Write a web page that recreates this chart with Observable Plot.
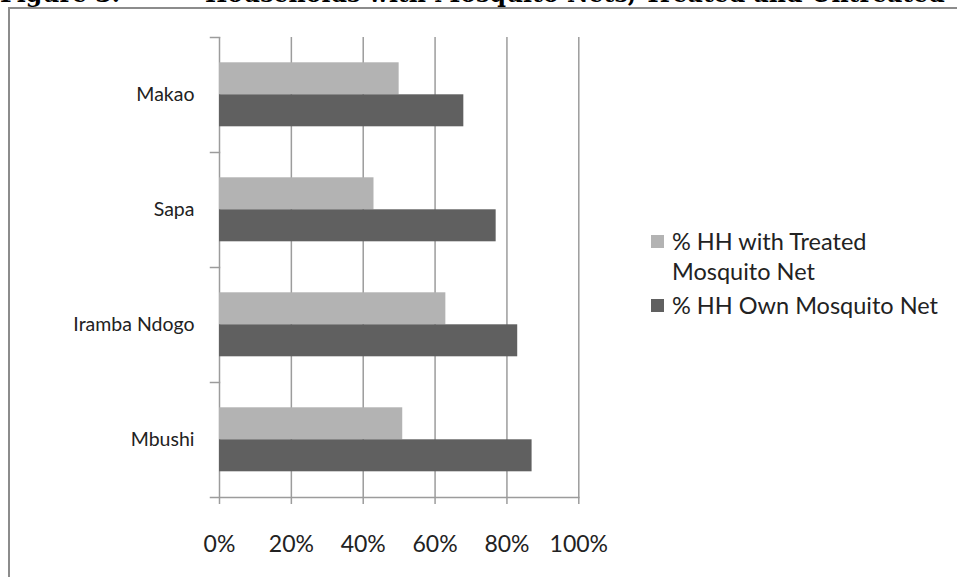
<!DOCTYPE html>
<html>
<head>
<meta charset="utf-8">
<script src="https://cdn.jsdelivr.net/npm/d3@7"></script>
<script src="https://cdn.jsdelivr.net/npm/@observablehq/plot@0.6"></script>
<style>
  body { margin: 0; background: #fff; width: 957px; height: 577px; overflow: hidden; position: relative; font-family: Lato, "Noto Sans", sans-serif; }
  #title { position: absolute; left: 0; top: 0; font-family: "DejaVu Serif", serif; font-weight: bold; color: #000; white-space: nowrap; line-height: 1; }
  #title span { position: absolute; top: 0; }
  #border { position: absolute; left: 8px; top: 7px; right: -4px; bottom: -4px; border-top: 2px solid #8c8c8c; border-left: 2px solid #8c8c8c; }
  #chart { position: absolute; left: 0; top: 0; }
  #legend { position: absolute; left: 651px; top: 226px; font-size: 23.5px; color: #222; line-height: 30px; }
  .item { display: flex; align-items: flex-start; margin-bottom: 4px; }
  .swatch { width: 13px; height: 13px; flex: none; margin-top: 9px; margin-right: 8px; }
  .label { max-width: 282px; }
</style>
</head>
<body>
<div id="border"></div>
<div id="chart"></div>
<div id="title"></div>
<div id="legend"></div>
<script>
// Survey sites, top to bottom
const sites = ["Makao", "Sapa", "Iramba Ndogo", "Mbushi"];
// Series names, in legend order
const series = ["% HH with Treated Mosquito Net", "% HH Own Mosquito Net"];
// Percent of households, one value per site
const treated = [50, 43, 63, 51];
const own = [68, 77, 83, 87];
// Axis ticks (percent)
const xTicks = [0, 20, 40, 60, 80, 100];
const colors = ["#b3b3b3", "#606060"];

const titleParts = ["Figure 3:", "Households with Mosquito Nets, Treated and Untreated"];

const rows = sites.flatMap((site, i) => [
  {site, series: series[0], value: treated[i]},
  {site, series: series[1], value: own[i]}
]);

const W = 957, H = 577;
const mLeft = 219, mRight = 378.7, mTop = 35.7, mBottom = 78.7;
const innerW = W - mLeft - mRight;
const lineColor = "#9c9c9c";

const chart = Plot.plot({
  width: W,
  height: H,
  marginLeft: mLeft,
  marginRight: mRight,
  marginTop: mTop,
  marginBottom: mBottom,
  style: {background: "transparent", fontFamily: "Lato, 'Noto Sans', sans-serif", color: "#222"},
  x: {domain: [0, 100]},
  y: {domain: series, paddingInner: 0, paddingOuter: 0.75, axis: null},
  fy: {domain: sites, padding: 0},
  color: {domain: series, range: colors},
  marks: [
    Plot.gridX(xTicks, {stroke: lineColor, strokeOpacity: 1, strokeWidth: 1.5}),
    Plot.barX(rows, {x: "value", y: "series", fy: "site", fill: "series"}),
    // short category dividers to the left of the value axis
    Plot.frame({anchor: "top", insetLeft: -9, insetRight: innerW, stroke: lineColor, strokeWidth: 1.5}),
    // horizontal axis line
    Plot.frame({anchor: "bottom", facetAnchor: "bottom", insetLeft: -9, stroke: lineColor, strokeWidth: 1.5}),
    Plot.axisX({
      ticks: xTicks, tickSize: 7, tickPadding: 31, tickFormat: d => `${d}%`,
      fontSize: 23, stroke: lineColor, strokeWidth: 1.5, fill: "#222", label: null
    }),
    Plot.axisFy({anchor: "left", tickSize: 0, tickPadding: 25, fontSize: 19.5, fill: "#222", label: null})
  ]
});
document.getElementById("chart").append(chart);

// Legend
const legend = d3.select("#legend");
series.forEach((name, i) => {
  const item = legend.append("div").attr("class", "item");
  item.append("div").attr("class", "swatch").style("background", colors[i]);
  item.append("div").attr("class", "label").text(name);
});

// Title line, scaled to span its full width
const title = d3.select("#title");
const fs = 24;
title.style("font-size", fs + "px");
title.append("span").style("left", "0px").text(titleParts[0]);
const b = title.append("span").style("left", "205px").text(titleParts[1]);
const wb = b.node().getBoundingClientRect().width;
const fit = fs * 740 / wb;
title.style("font-size", fit + "px");
// baseline sits just below the top edge of the page
title.style("top", (3 - 0.846 * fit) + "px");
</script>
</body>
</html>
